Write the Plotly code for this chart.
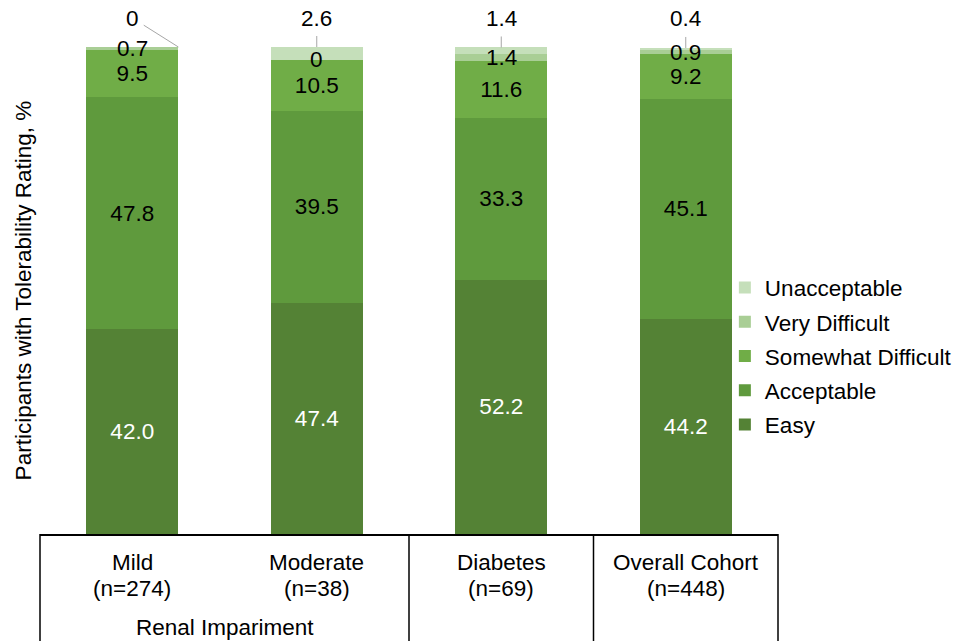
import plotly.graph_objects as go

# Tolerability ratings by participant group (% of participants)
categories = ["Mild", "Moderate", "Diabetes", "Overall Cohort"]
n_labels = ["(n=274)", "(n=38)", "(n=69)", "(n=448)"]
group_label = "Renal Impariment"

easy = [42.0, 47.4, 52.2, 44.2]
acceptable = [47.8, 39.5, 33.3, 45.1]
somewhat_difficult = [9.5, 10.5, 11.6, 9.2]
very_difficult = [0.7, 0.0, 1.4, 0.9]
unacceptable = [0.0, 2.6, 1.4, 0.4]

FONT = "Liberation Sans, Arial, sans-serif"
LABEL_SIZE = 22.5
BAR_WIDTH = 0.5

colors = {
    "Easy": "#548235",
    "Acceptable": "#5F9A3D",
    "Somewhat Difficult": "#70AD47",
    "Very Difficult": "#A9CE95",
    "Unacceptable": "#C5DFBA",
}

series = [
    ("Easy", easy, "white", lambda v: f"{v:.1f}"),
    ("Acceptable", acceptable, "black", lambda v: f"{v:g}"),
    ("Somewhat Difficult", somewhat_difficult, "black", lambda v: f"{v:g}"),
    ("Very Difficult", very_difficult, "black", None),
    ("Unacceptable", unacceptable, "black", None),
]

fig = go.Figure()
for k, (name, vals, tcolor, fmt) in enumerate(series):
    fig.add_trace(go.Bar(
        name=name,
        x=categories,
        y=vals,
        width=BAR_WIDTH,
        marker=dict(color=colors[name], line=dict(width=0)),
        text=[fmt(v) for v in vals] if fmt else None,
        textposition="inside" if fmt else "none",
        insidetextanchor="middle",
        textangle=0,
        textfont=dict(family=FONT, size=LABEL_SIZE, color=tcolor),
        legendgroup=name,
        legendrank=len(series) - k,
        hoverinfo="name+y",
    ))

annotations = []

# Very Difficult labels: thin segments, labelled at their centre
for i, cat in enumerate(categories):
    base = easy[i] + acceptable[i] + somewhat_difficult[i]
    annotations.append(dict(
        x=cat, y=base + very_difficult[i] / 2, xref="x", yref="y",
        text=f"{very_difficult[i]:g}", showarrow=False, yshift=0,
        font=dict(family=FONT, size=LABEL_SIZE, color="black"),
    ))

# Unacceptable labels: placed above the bar with a leader line
leader_dx = [BAR_WIDTH / 2, 0, 0, 0]
leader_ax = [-46, 0, 0, 0]
for i, cat in enumerate(categories):
    total = easy[i] + acceptable[i] + somewhat_difficult[i] + very_difficult[i] + unacceptable[i]
    annotations.append(dict(
        x=i + leader_dx[i], y=total, xref="x", yref="y",
        text=f"{unacceptable[i]:g}", showarrow=True,
        ax=leader_ax[i], ay=-29, axref="pixel", ayref="pixel",
        arrowhead=0, arrowwidth=1, arrowcolor="#A6A6A6",
        startstandoff=4,
        font=dict(family=FONT, size=LABEL_SIZE, color="black"),
    ))

# Category table below the bars
for cat, n in zip(categories, n_labels):
    annotations.append(dict(
        x=cat, y=0, xref="x", yref="paper", text=cat, showarrow=False,
        yanchor="middle", yshift=-28,
        font=dict(family=FONT, size=LABEL_SIZE, color="black"),
    ))
    annotations.append(dict(
        x=cat, y=0, xref="x", yref="paper", text=n, showarrow=False,
        yanchor="middle", yshift=-54,
        font=dict(family=FONT, size=LABEL_SIZE, color="black"),
    ))
annotations.append(dict(
    x=0.5, y=0, xref="x", yref="paper", text=group_label, showarrow=False,
    yanchor="middle", yshift=-93,
    font=dict(family=FONT, size=LABEL_SIZE, color="black"),
))

# Table grid: column dividers between the groups
shapes = []
n_cat = len(categories)
for b in [0, 2, 3, 4]:
    xp = b / n_cat
    shapes.append(dict(
        type="line", xref="paper", yref="paper",
        x0=xp, x1=xp, y0=0, y1=-0.3,
        line=dict(color="black", width=1.5),
    ))

fig.update_layout(
    width=959, height=641,
    margin=dict(l=40, r=181, t=47, b=107, autoexpand=False),
    barmode="stack",
    plot_bgcolor="white", paper_bgcolor="white",
    font=dict(family=FONT, size=LABEL_SIZE, color="black"),
    uniformtext=dict(mode="show", minsize=LABEL_SIZE),
    xaxis=dict(
        range=[-0.5, 3.5], showticklabels=False, ticks="",
        showgrid=False, zeroline=False,
        showline=True, linecolor="black", linewidth=1.5,
    ),
    yaxis=dict(
        range=[0, 100], showticklabels=False, ticks="",
        showgrid=False, zeroline=False, showline=False,
        title=dict(text="Participants with Tolerability Rating, %",
                   font=dict(family=FONT, size=LABEL_SIZE), standoff=1),
    ),
    legend=dict(
        x=0.928, xanchor="left", y=0.3645, yanchor="middle",
        traceorder="grouped", tracegroupgap=2,
        font=dict(family=FONT, size=LABEL_SIZE, color="black"),
        bgcolor="rgba(0,0,0,0)",
    ),
    annotations=annotations,
    shapes=shapes,
    showlegend=True,
)

fig.write_html("out.html")
